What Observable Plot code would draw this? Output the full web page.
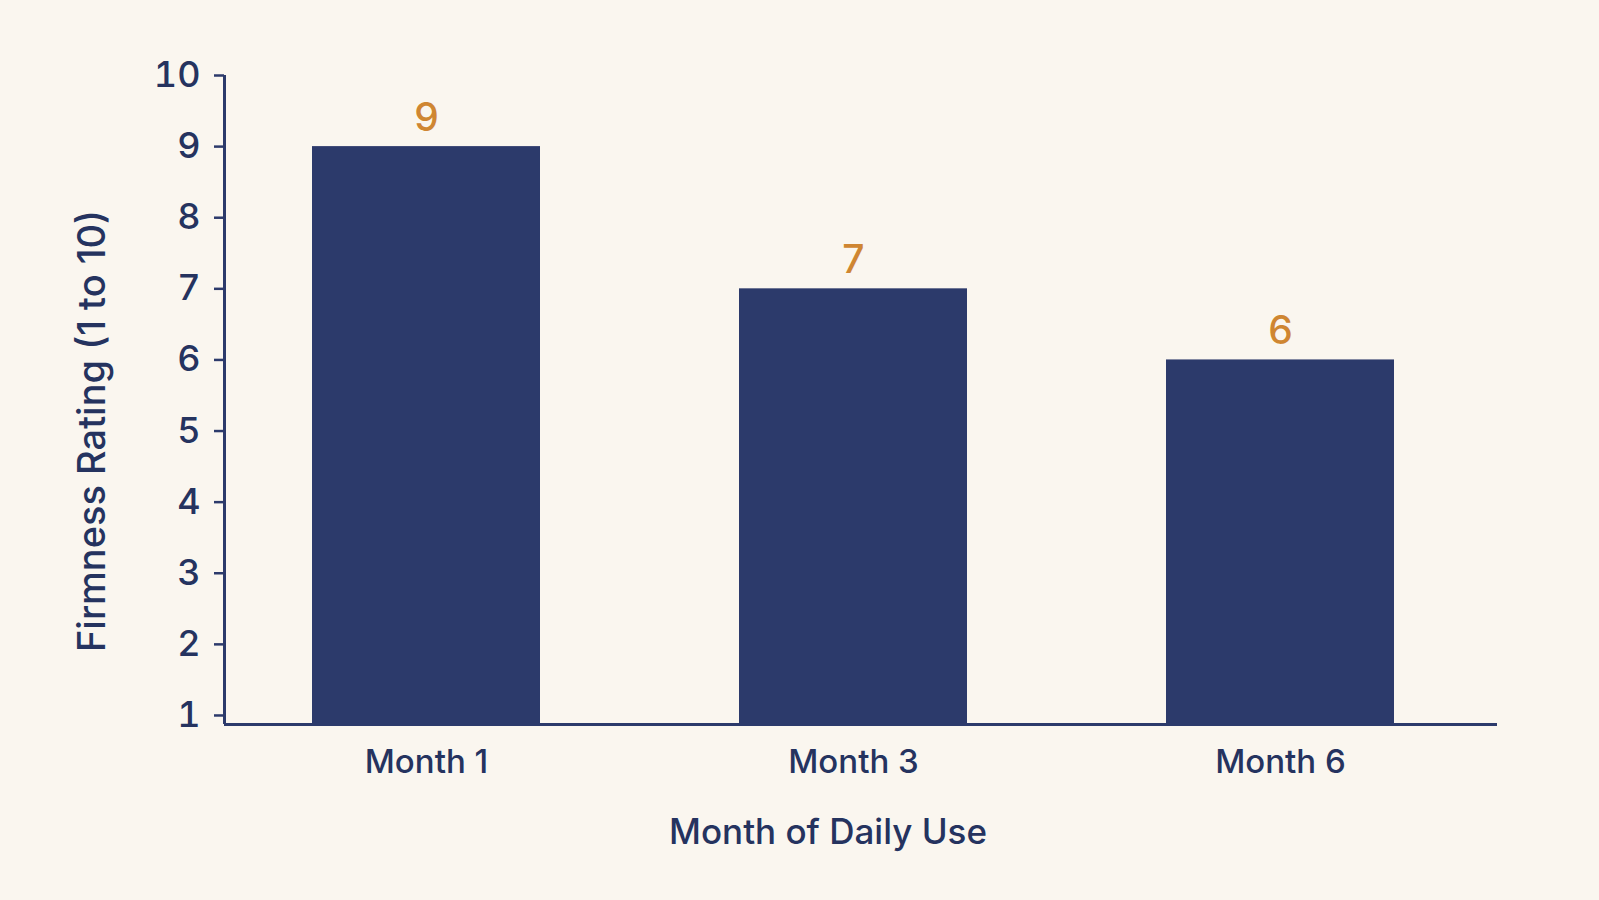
<!DOCTYPE html>
<html>
<head>
<meta charset="utf-8">
<script src="https://cdn.jsdelivr.net/npm/d3@7"></script>
<script src="https://cdn.jsdelivr.net/npm/@observablehq/plot@0.6"></script>
<style>
  html, body { margin: 0; padding: 0; background: #faf6ef; }
  #chart { width: 1599px; height: 900px; }
</style>
</head>
<body>
<div id="chart"></div>
<script>
const months = ["Month 1", "Month 3", "Month 6"];
const ratings = [9, 7, 6];
const yTicks = [1, 2, 3, 4, 5, 6, 7, 8, 9, 10];
const yLabel = "Firmness Rating (1 to 10)";
const xLabel = "Month of Daily Use";

const navy = "#2c3a6b";
const textNavy = "#25335f";
const orange = "#cf8632";
const cream = "#faf6ef";

const data = months.map((m, i) => ({month: m, rating: ratings[i]}));
const yBase = 0.873;

const W = 1599, H = 900;
const mL = 224, mR = 102, mT = 75, mB = 176;

const chart = Plot.plot({
  width: W,
  height: H,
  marginLeft: mL,
  marginRight: mR,
  marginTop: mT,
  marginBottom: mB,
  style: {background: cream, color: textNavy, fontFamily: "Inter, 'Noto Sans', sans-serif", fontWeight: 500},
  x: {domain: months, range: [113, 1593], padding: 0.466, label: null},
  y: {domain: [yBase, 10], label: null},
  marks: [
    Plot.barY(data, {x: "month", y1: () => yBase, y2: "rating", fill: navy}),
    Plot.text(data, {x: "month", y: "rating", text: d => String(d.rating), fill: orange, fontSize: 39, fontWeight: 500, lineAnchor: "middle", dy: -28}),
    Plot.axisY({ticks: yTicks, tickSize: 10, tickPadding: 14, fontSize: 36, stroke: navy, strokeWidth: 2.5, fill: textNavy, fontWeight: 500, label: null, tickFormat: d => String(d)}),
    Plot.axisX({tickSize: 0, tickPadding: 25, fontSize: 33, fill: textNavy, fontWeight: 500, label: null}),
    Plot.ruleY([yBase], {stroke: navy, strokeWidth: 3}),
    Plot.ruleX([0], {x: null, y1: () => yBase, y2: () => 10, stroke: navy, strokeWidth: 3, dx: mL - (mL + W - mR) / 2}),
    Plot.text([yLabel], {frameAnchor: "left", textAnchor: "middle", text: d => d, rotate: -90, fontSize: 38, fontWeight: 500, fill: textNavy, lineAnchor: "middle", dx: -132, dy: 31}),
    Plot.text([xLabel], {frameAnchor: "bottom", textAnchor: "middle", text: d => d, fontSize: 35, fontWeight: 500, fill: textNavy, lineAnchor: "middle", dx: -33, dy: 108})
  ]
});
document.getElementById("chart").appendChild(chart);
</script>
</body>
</html>
